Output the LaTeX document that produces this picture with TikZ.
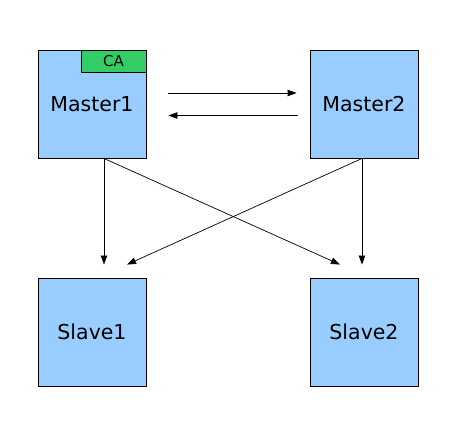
\documentclass[tikz,border=0pt]{standalone}
\usepackage{fontspec}
\setmainfont{DejaVu Sans}
\usetikzlibrary{arrows.meta}
\definecolor{boxblue}{HTML}{99CCFF}
\definecolor{cagreen}{HTML}{33CC66}

\begin{document}
\begin{tikzpicture}[
        x=1pt, y=-1pt,
        server/.style={rectangle, draw=black, fill=boxblue, line width=0.9pt, minimum width=108pt, minimum height=108pt, inner sep=0pt, text centered, font=\fontsize{20.5}{24}\selectfont},
        badge/.style={rectangle, draw=black, fill=cagreen, line width=0.9pt, minimum width=65pt, minimum height=22pt, inner sep=0pt, anchor=north east, font=\fontsize{15}{18}\selectfont},
        link/.style={->, line width=0.7pt, >={Triangle[length=9pt, width=6.5pt]}}
    ]
        \useasboundingbox (0,0) rectangle (475,429);
        % Nodes
        \node (master1) at (92, 104) [server] {Master1};
        \node (master2) at (364, 104) [server] {Master2};
        \node (slave1) at (92, 332) [server] {Slave1};
        \node (slave2) at (364, 332) [server] {Slave2};
        \node (ca) at (master1.north east) [badge] {CA};

        % Arrows
        \draw[link] ([xshift=22pt, yshift=11pt]master1.east) -- ([xshift=-13pt, yshift=11pt]master2.west);
        \draw[link] ([xshift=-12pt, yshift=-11.5pt]master2.west) -- ([xshift=22pt, yshift=-11.5pt]master1.east);

        \draw[link] ([xshift=12pt]master1.south) -- ([xshift=12pt, yshift=13pt]slave1.north);
        \draw[link] ([xshift=12pt]master1.south) -- ([xshift=-24pt, yshift=13pt]slave2.north);
        \draw[link] ([xshift=-2pt]master2.south) -- ([xshift=35pt, yshift=13pt]slave1.north);
        \draw[link] ([xshift=-2pt]master2.south) -- ([xshift=-2pt, yshift=13pt]slave2.north);

    \end{tikzpicture}
\end{document}
